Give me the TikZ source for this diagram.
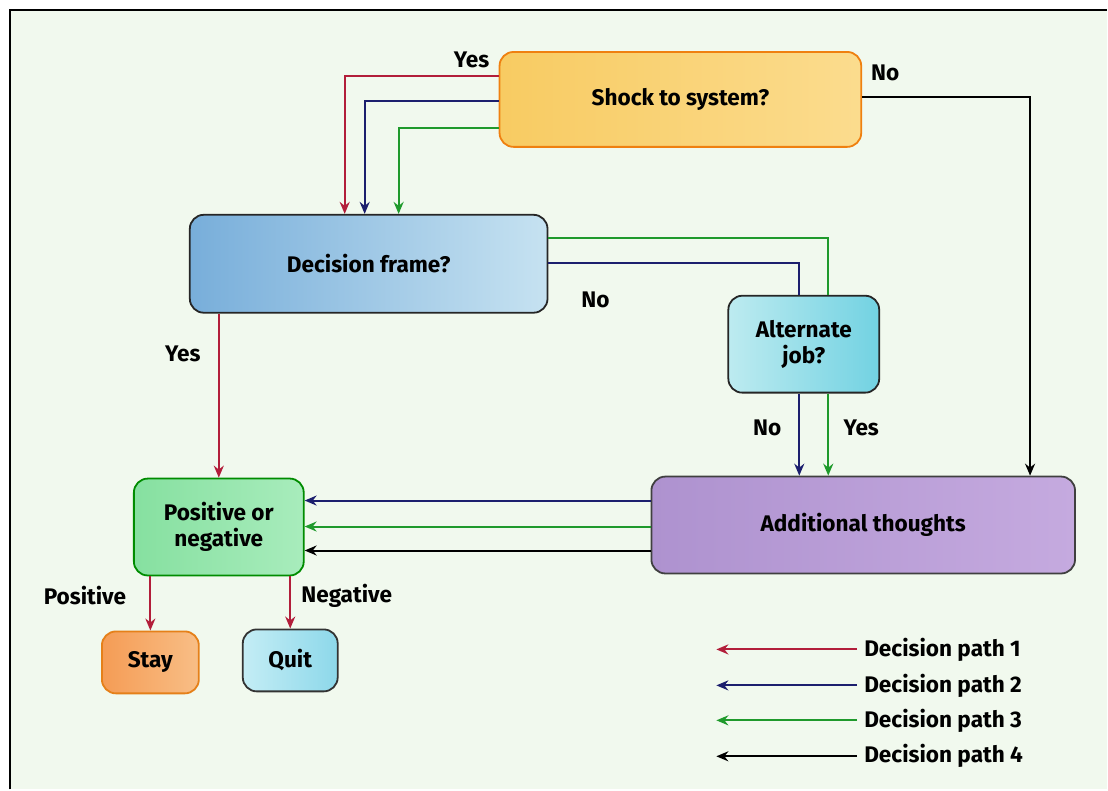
\documentclass[tikz,border=0pt]{standalone}
\usepackage{fontspec}
\setmainfont{Fira Sans}
\usetikzlibrary{arrows.meta}

\definecolor{paper}{HTML}{F1F9EE}
\definecolor{pathred}{HTML}{B21E3A}
\definecolor{pathblue}{HTML}{1C1F6E}
\definecolor{pathgreen}{HTML}{1F9A2C}
\definecolor{shockL}{HTML}{F8CB62}
\definecolor{shockR}{HTML}{FBDC8E}
\definecolor{frameL}{HTML}{78AEDA}
\definecolor{frameR}{HTML}{C6E2F1}
\definecolor{altL}{HTML}{BDEBF0}
\definecolor{altR}{HTML}{72D2E2}
\definecolor{posL}{HTML}{86E0A0}
\definecolor{posR}{HTML}{A8ECBC}
\definecolor{addL}{HTML}{AE92CF}
\definecolor{addR}{HTML}{C5AADF}
\definecolor{stayL}{HTML}{F59C55}
\definecolor{stayR}{HTML}{F8BE86}
\definecolor{quitL}{HTML}{C4EDF5}
\definecolor{quitR}{HTML}{8DD8EA}

\tikzset{
  box/.style={rounded corners=7pt, line width=0.9pt, align=center,
    font=\fontsize{11.3}{13}\selectfont\bfseries},
  lbl/.style={font=\fontsize{11.3}{13}\selectfont\bfseries},
  link/.style={line width=1pt, -{Stealth[length=6pt,width=5pt]}},
  plain/.style={line width=1pt},
}

\begin{document}
\begin{tikzpicture}[x=0.5pt, y=-0.5pt]
        % Page: scanned paper with a frame on top and left
        \fill[white] (0,0) rectangle (1108,790);
        \fill[paper] (10,10) rectangle (1108,790);
        \draw[line width=1pt] (10,790) -- (10,10) -- (1108,10);
        \useasboundingbox (0,0) rectangle (1108,790);
        % Boxes
        \node[box, draw=orange!75!brown, left color=shockL, right color=shockR,
              minimum width=181pt, minimum height=47.5pt] (shock) at (681,99.5) {Shock to system?};
        \node[box, draw=black!85, left color=frameL, right color=frameR,
              minimum width=179pt, minimum height=49pt] (frame) at (369,264) {Decision frame?};
        \node[box, draw=black!85, left color=altL, right color=altR,
              minimum width=75.5pt, minimum height=48.5pt] (altjob) at (804.5,344.5) {Alternate\\job?};
        \node[box, draw=green!55!black, left color=posL, right color=posR,
              minimum width=85pt, minimum height=48.5pt] (posneg) at (219,527.5) {Positive or\\negative};
        \node[box, draw=black!75, left color=addL, right color=addR,
              minimum width=212pt, minimum height=48.5pt] (addl) at (864,525.5) {Additional thoughts};
        \node[box, draw=orange!60!brown, left color=stayL, right color=stayR,
              minimum width=48.5pt, minimum height=31pt] (stay) at (150.5,663) {Stay};
        \node[box, draw=black!80, left color=quitL, right color=quitR,
              minimum width=47.5pt, minimum height=31pt] (quit) at (290.5,661) {Quit};
        % Shock: yes goes to the decision frame, no goes to additional thoughts
        \draw[link, pathred] (shock.west |- 0,76) -| (frame.north -| 345,0);
        \draw[link, pathblue] (shock.west |- 0,101) -| (frame.north -| 365,0);
        \draw[link, pathgreen] (shock.west |- 0,128) -| (frame.north -| 399,0);
        \draw[link, black] (shock.east |- 0,97) -| (addl.north -| 1031,0);
        % Decision frame: yes down, no over to alternate job
        \draw[link, pathred] (frame.south -| posneg.north) -- (posneg.north);
        \draw[plain, pathgreen] (frame.east |- 0,238) -| (altjob.north -| 829,0);
        \draw[plain, pathblue] (frame.east |- 0,263) -| (altjob.north -| 800,0);
        % Alternate job down to additional thoughts
        \draw[link, pathblue] (altjob.south -| 800,0) -- (addl.north -| 800,0);
        \draw[link, pathgreen] (altjob.south -| 829,0) -- (addl.north -| 829,0);
        % Additional thoughts back to positive or negative
        \draw[link, pathblue] (addl.west |- 0,501) -- (posneg.east |- 0,501);
        \draw[link, pathgreen] (addl.west |- 0,527) -- (posneg.east |- 0,527);
        \draw[link, black] (addl.west |- 0,551) -- (posneg.east |- 0,551);
        % Outcomes
        \draw[link, pathred] (posneg.south -| stay.north) -- (stay.north);
        \draw[link, pathred] (posneg.south -| quit.north) -- (quit.north);
        % Branch labels
        \node[lbl] (yesshock) at (472,60) {Yes};
        \node[lbl] (noshock) at (886,73) {No};
        \node[lbl] (noframe) at (596,300) {No};
        \node[lbl] (yesframe) at (183,354) {Yes};
        \node[lbl] (noalt) at (768,428) {No};
        \node[lbl] (yesalt) at (862,428) {Yes};
        \node[lbl] (pos) at (85,596) {Positive};
        \node[lbl] (neg) at (347,596) {Negative};
        % Legend
        \foreach \i/\c/\y in {1/pathred/650, 2/pathblue/686, 3/pathgreen/721, 4/black/757} {
          \node[lbl, anchor=west] (legend\i) at (858,\y) {Decision path \i};
          \coordinate (legendtip\i) at (717,\y);
          \draw[link, \c] (legend\i.west) -- (legendtip\i);
        }
      \end{tikzpicture}
\end{document}
